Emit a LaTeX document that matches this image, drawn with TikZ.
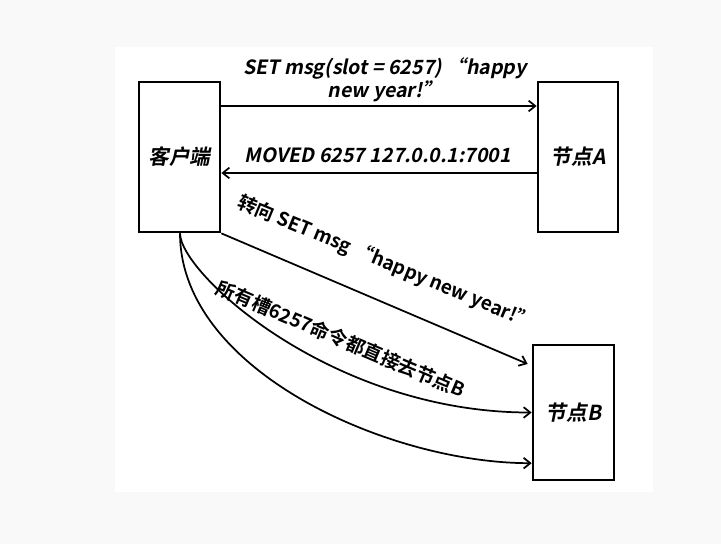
\documentclass[tikz,border=0pt]{standalone}
\usepackage{fontspec}
\newfontfamily\cjkbi[FakeSlant=0.2]{Noto Sans CJK SC Bold}
\newfontfamily\cjkup{Noto Sans CJK SC Bold}
\usetikzlibrary{arrows.meta}
\definecolor{pagegrey}{HTML}{F9F9F9}

\begin{document}
\begin{tikzpicture}[x=0.75pt,y=-0.75pt,
        box/.style={draw,line width=2pt,minimum width=60.75pt,inner sep=0pt,font=\cjkbi\fontsize{15.5}{18}\selectfont},
        msg/.style={-{Straight Barb[length=5pt,width=8pt]},line width=1.3pt},
        lbl/.style={font=\cjkbi\fontsize{14.7}{17.5}\selectfont,inner sep=0pt},
        rlbl/.style={font=\cjkup\fontsize{14.3}{16}\selectfont,inner sep=0pt}]

        \fill[pagegrey] (0,0) rectangle (721,544);
        \fill[white] (115,47) rectangle (653,492);

        \node[box,minimum height=112.5pt] (client) at (179.5,157) {客户端};
        \node[box,minimum height=112.5pt,minimum width=60pt] (nodeA) at (578,157) {节点A};
        \node[box,minimum height=101.25pt] (nodeB) at (573.5,412.5) {节点B};

        \draw[msg] ([yshift=38.25pt]client.east) -- ([yshift=38.25pt]nodeA.west);
        \draw[msg] ([yshift=-12pt]nodeA.west) -- ([yshift=-12pt]client.east);
        \draw[msg] (client.south east) -- ([xshift=-3pt,yshift=36.4pt]nodeB.west);
        \draw[msg] ([xshift=0.4pt]client.south) .. controls +(0,-30pt) and +(-150pt,0) .. (nodeB.west);
        \draw[msg] ([xshift=0.4pt]client.south) .. controls +(0,-103pt) and +(-107pt,0) .. ([yshift=-38pt]nodeB.west);

        \node[lbl,align=center] (setmsg) at (385,80) {SET msg(slot = 6257) “happy\\new year!”};
        \node[lbl] (moved) at (378,155) {MOVED 6257 127.0.0.1:7001};
        \node[rlbl,rotate=-22.5] (askmsg) at (386,263) {转向 SET msg “happy new year!”};
        \node[rlbl,rotate=-23] (allslot) at (341,339) {所有槽6257命令都直接去节点\textit{B}};

\end{tikzpicture}
\end{document}
